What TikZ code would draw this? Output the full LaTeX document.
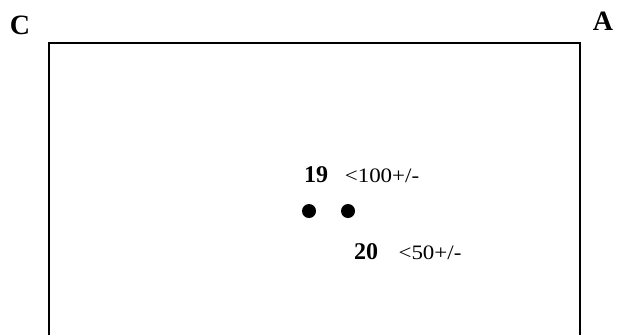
\documentclass[tikz,border=0pt]{standalone}
\usepackage{fontspec}
\setmainfont{Liberation Serif}
\newfontfamily\widefont[FakeStretch=1.12]{Liberation Serif}
\begin{document}
\begin{tikzpicture}[x=1pt,y=-1pt,
  corner/.style={font=\fontsize{28}{28}\selectfont\bfseries, inner sep=0pt},
  num/.style={font=\fontsize{24}{24}\selectfont\bfseries, inner sep=0pt},
  val/.style={font=\widefont\fontsize{20.5}{20.5}\selectfont, inner sep=0pt},
  spot/.style={circle, fill=black, minimum size=14pt, inner sep=0pt}]
\useasboundingbox (0,0) rectangle (617,335);
\coordinate (bl) at (49,335);
\coordinate (tl) at (49,43);
\coordinate (tr) at (580,43);
\coordinate (br) at (580,335);
\draw[line width=1.2pt] (bl) -- (tl) -- (tr) -- (br);
\node[corner] (C) at (20,25) {C};
\node[corner] (A) at (603,21) {A};
\node[num] (n19) at (316,175) {19};
\node[val] (v19) at (382,176) {<100+/-};
\node[spot] (d1) at (309,211) {};
\node[spot] (d2) at (348,211) {};
\node[num] (n20) at (366,252) {20};
\node[val] (v20) at (430,253) {<50+/-};
\end{tikzpicture}
\end{document}
